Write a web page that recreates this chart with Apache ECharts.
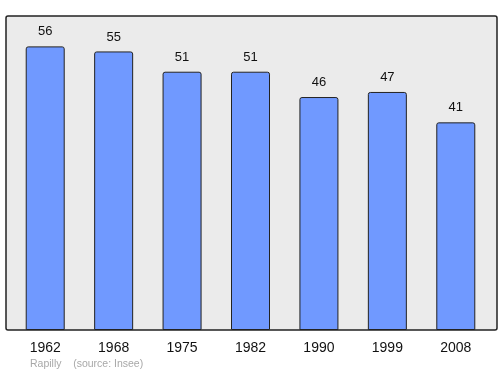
<!DOCTYPE html>
<html><head><meta charset="utf-8">
<script src="https://cdn.jsdelivr.net/npm/echarts@6/dist/echarts.min.js"></script>
<style>html,body{margin:0;padding:0;background:#fff}#c{width:500px;height:374px}</style>
</head><body><div id="c"></div>
<script>
var categories = ['1962','1968','1975','1982','1990','1999','2008'];
var population = [56,55,51,51,46,47,41];
var sourceText = 'Rapilly    (source: Insee)';

var chart = echarts.init(document.getElementById('c'), null, {renderer:'canvas'});
chart.setOption({
  animation:false,
  backgroundColor:'#ffffff',
  graphic:[
    {type:'rect', z:-10, shape:{x:6,y:16,width:491,height:314,r:2},
     style:{fill:'#ebebeb',stroke:'#222',lineWidth:1.5}},
    {type:'text', left:30, top:359, style:{text:sourceText,fill:'#a8a8a8',font:'10.5px "Liberation Sans", Arial, sans-serif'}}
  ],
  grid:{left:11, right:10, top:16, bottom:44, containLabel:false},
  xAxis:{type:'category', data:categories, boundaryGap:true,
    axisLine:{show:false}, axisTick:{show:false},
    axisLabel:{color:'#111', fontSize:14, fontFamily:'"Liberation Sans", Arial, sans-serif', margin:11}},
  yAxis:{type:'value', min:0, max:62, show:false, splitLine:{show:false}},
  series:[{type:'bar', data:population, barWidth:39,
    itemStyle:{color:'#7099ff', borderColor:'#222', borderWidth:1, borderRadius:[2,2,0,0]},
    label:{show:true, position:'top', distance:8, color:'#111', fontSize:13, fontFamily:'"Liberation Sans", Arial, sans-serif'}}]
});
</script></body></html>
